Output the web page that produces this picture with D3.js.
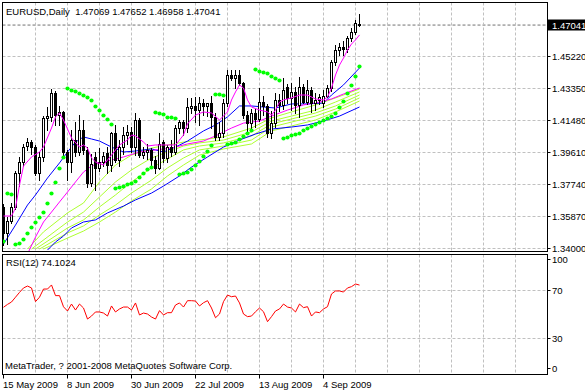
<!DOCTYPE html>
<html>
<head>
<meta charset="utf-8">
<script src="https://cdn.jsdelivr.net/npm/d3@7"></script>
<style>
  body { margin: 0; background: #fff; }
  text { font-family: "Liberation Sans", Arial, sans-serif; font-size: 9.5px; fill: #000; white-space: pre; }
</style>
</head>
<body>
<div id="chart"></div>
<script>
// ---------- data ----------
const titleText = "EURUSD,Daily  1.47069 1.47652 1.46958 1.47041";
const rsiTitle = "RSI(12) 74.1024";
const copyright = "MetaTrader, ? 2001-2008 MetaQuotes Software Corp.";
const lastPrice = 1.47041;

const dateLabels = ["15 May 2009", "8 Jun 2009", "30 Jun 2009", "22 Jul 2009", "13 Aug 2009", "4 Sep 2009"];
const dateLabelBars = [0, 16, 32, 48, 64, 80];

const priceTicks = [1.34, 1.3587, 1.3774, 1.3961, 1.4148, 1.4335, 1.4522, 1.4709];
const priceLabels = ["1.34000", "1.35870", "1.37740", "1.39610", "1.41480", "1.43350", "1.45220", ""];
const rsiTicks = [100, 70, 30, 0];
const rsiGrid = [70, 30];

const open = [1.3640,1.3490,1.3560,1.3640,1.3840,1.3900,1.3995,1.4020,1.3990,1.3838,
  1.3930,1.4160,1.4165,1.4305,1.4175,1.4195,1.3960,1.3905,1.4030,1.3960,
  1.4090,1.3975,1.3780,1.3930,1.3870,1.3905,1.3955,1.3885,1.4070,1.3914,
  1.3990,1.4060,1.4075,1.3990,1.4148,1.3945,1.3960,1.3975,1.3914,1.3867,
  1.4020,1.3925,1.3990,1.3960,1.4100,1.4135,1.4100,1.4220,1.4228,1.4205,
  1.4250,1.4230,1.4245,1.4165,1.4050,1.4070,1.4250,1.4410,1.4395,1.4410,
  1.4365,1.4177,1.4130,1.4190,1.4155,1.4255,1.4230,1.4070,1.4130,1.4265,
  1.4235,1.4340,1.4275,1.4310,1.4235,1.4340,1.4255,1.4323,1.4250,1.4265,
  1.4250,1.4290,1.4335,1.4486,1.4556,1.4574,1.4560,1.4630,1.4665,1.47069];
const high = [1.3655,1.3580,1.3665,1.3850,1.3930,1.4010,1.4045,1.4030,1.4000,1.3960,
  1.4170,1.4225,1.4328,1.4320,1.4230,1.4200,1.3975,1.4090,1.4135,1.4177,
  1.4150,1.3990,1.3950,1.3960,1.3985,1.3960,1.3990,1.4080,1.4118,1.4030,
  1.4107,1.4120,1.4105,1.4190,1.4160,1.3990,1.4010,1.3985,1.3940,1.4070,
  1.4030,1.4000,1.4030,1.4120,1.4150,1.4150,1.4276,1.4276,1.4280,1.4285,
  1.4270,1.4250,1.4290,1.4190,1.4136,1.4270,1.4440,1.4440,1.4440,1.4440,
  1.4370,1.4200,1.4210,1.4210,1.4335,1.4290,1.4240,1.4200,1.4305,1.4300,
  1.4393,1.4360,1.4364,1.4340,1.4400,1.4360,1.4381,1.4340,1.4305,1.4300,
  1.4323,1.4350,1.4500,1.4586,1.4600,1.4610,1.4640,1.4685,1.4730,1.47652];
const low = [1.3420,1.3425,1.3545,1.3625,1.3760,1.3880,1.3975,1.3950,1.3826,1.3800,
  1.3910,1.4090,1.4140,1.4120,1.4120,1.3945,1.3797,1.3844,1.3940,1.3945,
  1.3950,1.3756,1.3760,1.3740,1.3850,1.3880,1.3840,1.3850,1.3900,1.3880,
  1.3950,1.4010,1.3960,1.3945,1.3930,1.3925,1.3920,1.3867,1.3838,1.3860,
  1.3900,1.3905,1.3940,1.3950,1.4070,1.4060,1.4080,1.4190,1.4135,1.4120,
  1.4180,1.4170,1.4100,1.4030,1.4030,1.4050,1.4230,1.4380,1.4335,1.4350,
  1.4160,1.4077,1.4100,1.4110,1.4140,1.4180,1.4050,1.4040,1.4110,1.4200,
  1.4210,1.4250,1.4206,1.4190,1.4165,1.4250,1.4240,1.4195,1.4205,1.4240,
  1.4223,1.4280,1.4320,1.4470,1.4530,1.4530,1.4545,1.4610,1.4650,1.46958];
const close = [1.3490,1.3560,1.3640,1.3840,1.3900,1.3990,1.4020,1.3990,1.3838,1.3930,
  1.4160,1.4170,1.4305,1.4175,1.4195,1.3960,1.3905,1.4030,1.3960,1.4090,
  1.3975,1.3780,1.3890,1.3870,1.3905,1.3935,1.3885,1.4070,1.3914,1.3990,
  1.4060,1.4075,1.3990,1.4148,1.3945,1.3960,1.3975,1.3914,1.3867,1.4010,
  1.3925,1.3990,1.3960,1.4100,1.4135,1.4100,1.4225,1.4228,1.4205,1.4250,
  1.4230,1.4245,1.4165,1.4050,1.4070,1.4250,1.4410,1.4395,1.4410,1.4365,
  1.4177,1.4130,1.4190,1.4155,1.4255,1.4230,1.4070,1.4130,1.4265,1.4235,
  1.4323,1.4275,1.4310,1.4235,1.4340,1.4255,1.4323,1.4250,1.4265,1.4280,
  1.4290,1.4335,1.4486,1.4556,1.4574,1.4560,1.4630,1.4665,1.4715,1.47041];

// moving averages: [bar, price]
const maFastMagenta = [[0,1.3587],[2,1.3587],[3,1.3634],[4,1.3768],[5,1.3879],[7,1.3932],[9,1.3961],[10,1.3990],
  [12,1.4101],[13,1.4166],[14,1.4189],[15,1.4148],[17,1.4043],[19,1.3990],[20,1.4002],[21,1.3984],[22,1.3926],
  [23,1.3903],[25,1.3885],[27,1.3943],[29,1.4002],[31,1.4031],[32,1.4060],[33,1.4055],[35,1.4019],[36,1.3996],
  [38,1.4002],[41,1.4002],[43,1.4002],[45,1.4060],[46,1.4125],[48,1.4177],[50,1.4195],[52,1.4189],[54,1.4148],
  [56,1.4195],[57,1.4265],[58,1.4312],[59,1.4353],[60,1.4335],[61,1.4265],[62,1.4224],[64,1.4206],[66,1.4195],
  [67,1.4177],[68,1.4206],[69,1.4253],[70,1.4265],[72,1.4277],[74,1.4294],[76,1.4294],[78,1.4271],[80,1.4265],
  [81,1.4282],[82,1.4335],[83,1.4411],[84,1.4469],[85,1.4510],[86,1.4557],[87,1.4592],[88,1.4616],[89,1.4645]];
const maSlowMagenta = [[6,1.3365],[8,1.3464],[10,1.3552],[12,1.3610],[14,1.3669],[16,1.3727],[18,1.3786],[20,1.3844],
  [22,1.3879],[24,1.3897],[27,1.3914],[30,1.3932],[34,1.3961],[38,1.3973],[42,1.3984],[46,1.4008],[50,1.4025],
  [53,1.4055],[57,1.4101],[60,1.4130],[64,1.4142],[67,1.4171],[71,1.4206],[75,1.4236],[79,1.4253],[82,1.4271],
  [85,1.4300],[89,1.4335]];
const maBlueMid = [[0,1.3423],[3,1.3534],[6,1.3651],[8,1.3710],[11,1.3809],[14,1.3897],[16,1.3961],[18,1.4019],
  [20,1.4049],[22,1.4037],[24,1.4025],[27,1.3990],[30,1.3961],[33,1.3967],[37,1.3979],[40,1.3961],[43,1.3990],
  [46,1.4025],[50,1.4084],[53,1.4119],[56,1.4166],[59,1.4230],[62,1.4230],[65,1.4224],[68,1.4218],[72,1.4242],
  [76,1.4242],[80,1.4247],[82,1.4294],[85,1.4353],[89,1.4452]];
const maBlueSlow = [[11,1.3388],[13,1.3435],[15,1.3470],[17,1.3517],[20,1.3552],[23,1.3564],[26,1.3605],[30,1.3645],
  [33,1.3681],[37,1.3721],[40,1.3762],[44,1.3821],[47,1.3873],[51,1.3932],[55,1.3990],[59,1.4031],[63,1.4066],
  [67,1.4095],[72,1.4107],[76,1.4119],[80,1.4142],[84,1.4171],[89,1.4224]];
const maGreen1 = [[6,1.3394],[10,1.3494],[16,1.3605],[20,1.3663],[24,1.3786],[28,1.3885],[32,1.3943],[37,1.3984],
  [45,1.4019],[49,1.4031],[55,1.4049],[62,1.4101],[67,1.4160],[72,1.4195],[78,1.4236],[83,1.4277],[89,1.4329]];
const maGreen2 = [[7,1.3394],[16,1.3552],[20,1.3610],[24,1.3698],[28,1.3786],[32,1.3856],[37,1.3926],[41,1.3961],
  [45,1.3996],[49,1.4014],[55,1.4031],[62,1.4078],[67,1.4142],[72,1.4171],[78,1.4206],[83,1.4253],[89,1.4312]];
const maGreen3 = [[8,1.3394],[16,1.3517],[20,1.3564],[24,1.3640],[28,1.3710],[32,1.3786],[37,1.3868],[41,1.3920],
  [45,1.3973],[49,1.3996],[55,1.4014],[62,1.4055],[67,1.4125],[72,1.4154],[78,1.4189],[83,1.4230],[89,1.4294]];
const maGreen4 = [[9,1.3394],[16,1.3488],[20,1.3529],[24,1.3593],[28,1.3651],[32,1.3721],[37,1.3797],[41,1.3868],
  [45,1.3926],[49,1.3973],[55,1.3996],[62,1.4031],[67,1.4107],[72,1.4136],[78,1.4171],[83,1.4212],[89,1.4277]];
const maGreen5 = [[10,1.3394],[16,1.3458],[20,1.3499],[24,1.3552],[28,1.3610],[32,1.3675],[37,1.3745],[41,1.3821],
  [45,1.3885],[49,1.3943],[55,1.3979],[62,1.4008],[67,1.4084],[72,1.4113],[78,1.4148],[83,1.4195],[89,1.4259]];

// parabolic SAR, one per bar
const sar = [1.3441,1.3721,1.3716,1.3423,1.3429,1.3453,1.3488,1.3523,1.3552,1.3581,
  1.3610,1.3663,1.3721,1.3786,1.3868,1.3932,1.4335,1.4323,1.4317,1.4306,
  1.4294,1.4282,1.4265,1.4230,1.4206,1.4177,1.4154,1.4125,1.3751,1.3756,
  1.3762,1.3774,1.3780,1.3792,1.3815,1.3838,1.3862,1.3873,1.4195,1.4189,
  1.4183,1.4166,1.4166,1.4160,1.3832,1.3838,1.3844,1.3862,1.3885,1.3908,
  1.3938,1.3967,1.4002,1.4300,1.4300,1.4294,1.4008,1.4014,1.4019,1.4037,
  1.4055,1.4072,1.4090,1.4446,1.4434,1.4429,1.4423,1.4405,1.4393,1.4382,
  1.4043,1.4049,1.4060,1.4066,1.4072,1.4090,1.4101,1.4113,1.4125,1.4136,
  1.4148,1.4160,1.4171,1.4189,1.4224,1.4259,1.4306,1.4353,1.4405,1.4464];

// RSI(12), one per bar
const rsi = [55.6,58,60,64,68,71.7,73.3,71.7,60.3,64,
  70.8,70.8,74.2,65.3,65.3,56,52.5,58.3,53.3,58.3,
  55,45.8,48.3,51.7,51.7,50.8,48.3,56.7,51.7,54.2,
  55.8,55.8,53.3,59.2,49.2,50.8,50,47.5,45.8,52.8,
  49.2,51.1,51.1,57.5,59.2,55.8,61.1,61.1,60.8,56.7,
  59.4,61.1,55,46.9,50,60.3,65.8,64.4,65,59.2,
  50,47.8,48.3,51.9,55,51.9,43.6,47.8,52.5,54.2,
  58.3,55.8,55,51.7,58.3,55.3,56.1,48.3,51.7,51.1,
  54.2,56.1,66.7,69.2,69.2,68.3,71.7,72.8,75,74.1];

// ---------- layout ----------
const width = 585, height = 392;
const left = 2.5, right = 547.5;
const mainTop = 2.5, mainBottom = 251.5;
const rsiTop = 254.5, rsiBottom = 374.5;

const svg = d3.select("#chart").append("svg")
  .attr("width", width).attr("height", height)
  .style("display", "block");
svg.append("rect").attr("width", width).attr("height", height).attr("fill", "#fff");

// scales
const x = d3.scaleLinear().domain([0, 136]).range([3, 547]);   // 4 px per bar
const y = d3.scaleLinear().domain([1.34, 1.4709]).range([248, 24]);
const yR = d3.scaleLinear().domain([0, 100]).range([374, 254]);
const px = v => Math.round(v) + 0.5;

const defs = svg.append("defs");
defs.append("clipPath").attr("id", "clipMain").append("rect")
  .attr("x", left + 0.5).attr("y", mainTop + 0.5).attr("width", right - left - 1).attr("height", mainBottom - mainTop - 1);
defs.append("clipPath").attr("id", "clipRsi").append("rect")
  .attr("x", left + 0.5).attr("y", rsiTop + 0.5).attr("width", right - left - 1).attr("height", rsiBottom - rsiTop - 1);

const gridColor = "#c0c0c0";
const dash = "3,2";
const gridBars = d3.range(8, 136, 8);

// ---------- main panel ----------
const main = svg.append("g").attr("clip-path", "url(#clipMain)");

main.selectAll("line.vg").data(gridBars).join("line")
  .attr("x1", d => px(x(d))).attr("x2", d => px(x(d)))
  .attr("y1", mainTop).attr("y2", mainBottom)
  .attr("stroke", gridColor).attr("stroke-dasharray", dash);
main.selectAll("line.hg").data(priceTicks).join("line")
  .attr("x1", left).attr("x2", right)
  .attr("y1", d => px(y(d))).attr("y2", d => px(y(d)))
  .attr("stroke", gridColor).attr("stroke-dasharray", dash);

// last price line
main.append("line")
  .attr("x1", left).attr("x2", right)
  .attr("y1", px(y(lastPrice))).attr("y2", px(y(lastPrice)))
  .attr("stroke", "#b0b0b0").attr("stroke-dasharray", dash);

// moving averages
const maLine = d3.line().x(d => x(d[0]) + 0.5).y(d => y(d[1]));
const maSeries = [
  { data: maGreen5, color: "#adff2f" },
  { data: maGreen4, color: "#adff2f" },
  { data: maGreen3, color: "#adff2f" },
  { data: maGreen2, color: "#adff2f" },
  { data: maGreen1, color: "#adff2f" },
  { data: maBlueSlow, color: "#0000ff" },
  { data: maBlueMid, color: "#0000ff" },
  { data: maSlowMagenta, color: "#ff00ff" },
];
maSeries.forEach(s => {
  main.append("path").datum(s.data)
    .attr("d", maLine).attr("fill", "none")
    .attr("stroke", s.color).attr("stroke-width", 1);
});

// candles
const candles = main.append("g");
close.forEach((c, i) => {
  const o = open[i];
  const cx = x(i);
  candles.append("line")
    .attr("x1", cx + 0.5).attr("x2", cx + 0.5)
    .attr("y1", Math.round(y(high[i]))).attr("y2", Math.round(y(low[i])) + 1)
    .attr("stroke", "#000");
  const top = Math.round(y(Math.max(o, c)));
  const bot = Math.round(y(Math.min(o, c)));
  candles.append("rect")
    .attr("x", cx - 0.5).attr("y", top + 0.5)
    .attr("width", 2).attr("height", Math.max(bot - top, 0))
    .attr("fill", c >= o ? "#fff" : "#000")
    .attr("stroke", "#000");
});

// fast MA drawn over candles
main.append("path").datum(maFastMagenta)
  .attr("d", maLine).attr("fill", "none")
  .attr("stroke", "#ff00ff").attr("stroke-width", 1);

// parabolic SAR
main.selectAll("circle.sar").data(sar).join("circle")
  .attr("cx", (d, i) => x(i) + 0.5).attr("cy", d => px(y(d)))
  .attr("r", 2.1).attr("fill", "#00ff00");

// ---------- RSI panel ----------
const rsiG = svg.append("g").attr("clip-path", "url(#clipRsi)");
rsiG.selectAll("line.vg").data(gridBars).join("line")
  .attr("x1", d => px(x(d))).attr("x2", d => px(x(d)))
  .attr("y1", rsiTop).attr("y2", rsiBottom)
  .attr("stroke", gridColor).attr("stroke-dasharray", dash);
rsiG.selectAll("line.hg").data(rsiGrid).join("line")
  .attr("x1", left).attr("x2", right)
  .attr("y1", d => px(yR(d))).attr("y2", d => px(yR(d)))
  .attr("stroke", gridColor).attr("stroke-dasharray", dash);
rsiG.append("path").datum(rsi)
  .attr("d", d3.line().x((d, i) => x(i) + 0.5).y(d => yR(d)))
  .attr("fill", "none").attr("stroke", "#ff0000").attr("stroke-width", 1);

// ---------- frames ----------
[[mainTop, mainBottom], [rsiTop, rsiBottom]].forEach(([t, b]) => {
  svg.append("rect")
    .attr("x", left).attr("y", t).attr("width", right - left).attr("height", b - t)
    .attr("fill", "none").attr("stroke", "#000");
});

// ---------- price axis ----------
priceTicks.forEach((p, k) => {
  if (!priceLabels[k]) return;
  const yy = px(y(p));
  svg.append("line").attr("x1", right).attr("x2", right + 3).attr("y1", yy).attr("y2", yy).attr("stroke", "#000");
  svg.append("text").attr("x", 552).attr("y", yy + 3.5).text(priceLabels[k]);
});
const lastY = px(y(lastPrice));
svg.append("rect").attr("x", 548).attr("y", lastY - 6).attr("width", 37).attr("height", 11).attr("fill", "#000");
svg.append("text").attr("x", 552).attr("y", lastY + 3.5).style("fill", "#fff").text(lastPrice.toFixed(5));

// RSI axis
rsiTicks.forEach(v => {
  const yy = Math.min(Math.max(px(yR(v)), rsiTop + 5), rsiBottom - 6);
  svg.append("line").attr("x1", right).attr("x2", right + 3).attr("y1", yy).attr("y2", yy).attr("stroke", "#000");
  svg.append("text").attr("x", 552).attr("y", yy + 3.5).text(v);
});

// ---------- time axis ----------
dateLabelBars.forEach((b, k) => {
  const xx = x(b) + 0.5;
  svg.append("line").attr("x1", xx).attr("x2", xx).attr("y1", rsiBottom).attr("y2", rsiBottom + 4).attr("stroke", "#000");
  svg.append("text").attr("x", x(b)).attr("y", 388).text(dateLabels[k]);
});

// ---------- labels ----------
svg.append("text").attr("x", 6).attr("y", 15).text(titleText);
svg.append("text").attr("x", 6).attr("y", 266).text(rsiTitle);
svg.append("text").attr("x", 5).attr("y", 369).text(copyright);
</script>
</body>
</html>
